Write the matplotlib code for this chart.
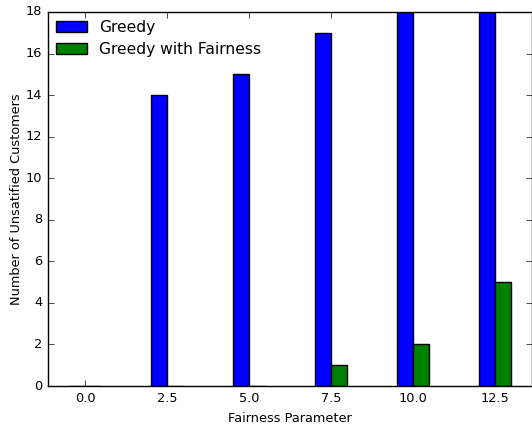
import matplotlib
matplotlib.use("Agg")
import matplotlib.pyplot as plt
import numpy as np

plt.style.use("classic")

fairness = [0.0, 2.5, 5.0, 7.5, 10.0, 12.5]
greedy = [0, 14, 15, 17, 18, 18]
greedy_fair = [0, 0, 0, 1, 2, 5]
bar_width = 0.5

fig = plt.figure(figsize=(5.32, 4.24), dpi=100)
ax = fig.add_axes([0.0902, 0.0896, 0.9098, 0.8821])

x = np.array(fairness)
ax.bar(x - bar_width, greedy, bar_width, align="edge", color="b", label="Greedy")
ax.bar(x, greedy_fair, bar_width, align="edge", color="g", label="Greedy with Fairness")

ax.set_xlim(-1.13, 13.63)
ax.set_ylim(0, 18)
ax.set_xticks(fairness)
ax.set_xticklabels([f"{v:.1f}" for v in fairness])
ax.tick_params(labelsize=9.3)
ax.set_xlabel("Fairness Parameter", fontsize=9.3)
ax.set_ylabel("Number of Unsatified Customers", fontsize=9.3, labelpad=2)
ax.legend(loc="upper left", frameon=False, fontsize=11.2, borderaxespad=0.1,
          labelspacing=0.45)

fig.savefig("out.png", dpi=100)
